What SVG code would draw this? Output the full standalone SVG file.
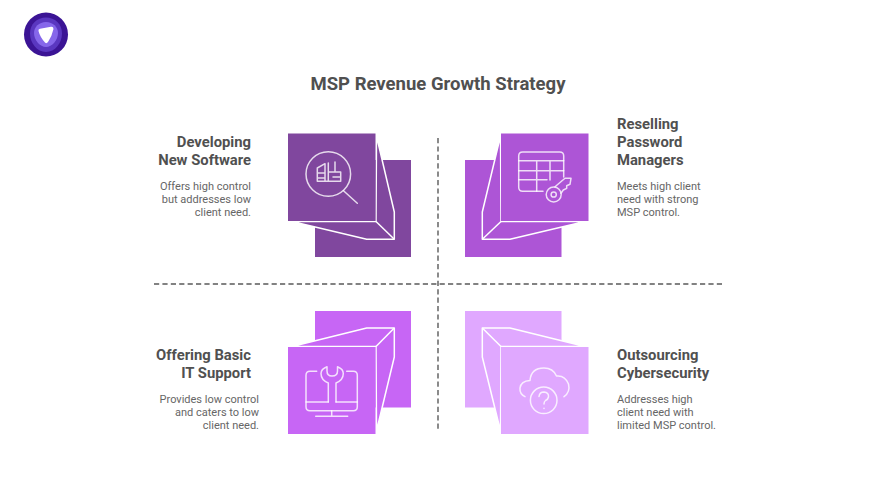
<svg xmlns="http://www.w3.org/2000/svg" width="876" height="493" viewBox="0 0 876 493">
<style>
text{font-family:Roboto,"Liberation Sans",sans-serif}
.t{font-size:18.5px;font-weight:700;fill:#505050}
.h{font-size:14.8px;font-weight:700;fill:#505050}
.d{font-size:11px;fill:#666}
.e{text-anchor:end}
.f{stroke:#fff;stroke-width:1.5;stroke-linejoin:round}
.b{stroke:none}
.i{fill:none;stroke:#fff;stroke-opacity:.8;stroke-width:1.5;stroke-linecap:round;stroke-linejoin:round}
.dash{fill:none;stroke:#5a5a5a;stroke-width:1.4;stroke-dasharray:5.2 3.2}
</style>
<rect width="876" height="493" fill="#fff"/>
<g id="logo">
<circle cx="46" cy="34.500" r="22" fill="#3b1495"/>
<path d="M46 17.500C55 17.500 62 24 62 33.500C62 43 55 52 46 52C37 52 30 43 30 33.500C30 24 37 17.500 46 17.500Z" fill="#5a37c0"/>
<path d="M46 22C53 22 58 27 58 33C58 40 52 47 46 47C40 47 34 40 34 33C34 27 39 22 46 22Z" fill="#8667ea"/>
<path d="M38.500 31Q38 29 40 28.800L51 26.800Q53.500 26.500 53.500 29Q52 36 48 42Q46.500 44 45 42.500Q40 37 38.500 31Z" fill="#fff"/>
</g>
<text class="t" x="438" y="90" text-anchor="middle">MSP Revenue Growth Strategy</text>
<g id="connectors">
<path class="dash" d="M154 284H724"/>
<path class="dash" d="M438 138V431"/>
</g>
<g id="node-developing">
<rect class="b" x="315" y="160" width="96" height="97" fill="#80479e"/>
<path class="f" d="M376 221.500L376.500 136L394.300 212V239.300H366.700L292 221.500Z" fill="#80479e"/>
<path class="f" fill="none" d="M376 221.500L394.300 239.300"/>
<rect class="b" x="288" y="133.500" width="87.500" height="87.500" fill="#80479e"/>
<g class="i">
<circle cx="328.300" cy="174" r="22.300"/>
<path d="M343.500 190.700L357.300 203.300"/>
<path d="M325 163.700L317.300 168V181.300H340.700V172H328.300M325 163.700V181.300M328.300 163V181.300M335 162V172M317.300 173H325M317.300 178H325M333 177H340.700"/>
</g>
<text class="h e" x="251" y="147">Developing</text>
<text class="h e" x="251" y="165">New Software</text>
<text class="d e" x="251" y="190">Offers high control</text>
<text class="d e" x="251" y="203">but addresses low</text>
<text class="d e" x="251" y="216">client need.</text>
</g>
<g id="node-reselling">
<rect class="b" x="465" y="160" width="96.500" height="97" fill="#ad55d6"/>
<path class="f" d="M501 221.500L500.500 136L482.300 212V239.300H510L585 221.500Z" fill="#ad55d6"/>
<path class="f" fill="none" d="M501 221.500L482.300 239.300"/>
<rect class="b" x="501" y="133.500" width="87.500" height="87.500" fill="#ad55d6"/>
<g class="i">
<path d="M563.700 177V156Q563.700 152 559.700 152H522.700Q518.700 152 518.700 156V187.300Q518.700 191.300 522.700 191.300H543"/>
<path d="M518.700 160.700H563.700M518.700 170.700H563.700M518.700 179.700H547M536.700 160.700V191.300M550 160.700V180"/>
<circle cx="553.700" cy="194.500" r="7.500"/>
<circle cx="553.700" cy="194.500" r="2.600"/>
<path d="M555 186.700L565 178.300H571L570 184.300L566.700 185.700V188.300L563.300 190L561 193.300"/>
</g>
<text class="h" x="617" y="129">Reselling</text>
<text class="h" x="617" y="147">Password</text>
<text class="h" x="617" y="165">Managers</text>
<text class="d" x="617" y="190">Meets high client</text>
<text class="d" x="617" y="203">need with strong</text>
<text class="d" x="617" y="216">MSP control.</text>
</g>
<g id="node-offering">
<rect class="b" x="315" y="311" width="96" height="96.500" fill="#c766f5"/>
<path class="f" d="M376 346.500L376.500 431L394.300 357V328H366.700L292 346.500Z" fill="#c766f5"/>
<path class="f" fill="none" d="M376 346.500L394.300 328"/>
<rect class="b" x="288" y="347" width="87.500" height="87" fill="#c766f5"/>
<g class="i">
<path d="M316.700 371.300H310Q306 371.300 306 375.300V406.700Q306 410.700 310 410.700H353.300Q357.300 410.700 357.300 406.700V375.300Q357.300 371.300 353.300 371.300H346.700"/>
<path d="M306 402H328.300M336 402H357.300M331.700 410.700V416.300M315.700 416.300H347.700"/>
<path d="M328.300 402V383Q321 380 321 373.500Q321 369 327 366.700V371Q327 376 332 376Q337.500 376 337.500 371V366.700Q343.300 369 343.300 373.500Q343.300 380 336 383V402"/>
</g>
<text class="h e" x="251" y="360">Offering Basic</text>
<text class="h e" x="251" y="378">IT Support</text>
<text class="d e" x="259" y="403">Provides low control</text>
<text class="d e" x="259" y="416">and caters to low</text>
<text class="d e" x="259" y="429">client need.</text>
</g>
<g id="node-outsourcing">
<rect class="b" x="465" y="311" width="96.500" height="96.500" fill="#e0a8ff"/>
<path class="f" d="M501 346.500L500.500 431L482.300 357V328H510L585 346.500Z" fill="#e0a8ff"/>
<path class="f" fill="none" d="M501 346.500L482.300 328"/>
<rect class="b" x="501" y="347" width="87.500" height="87" fill="#e0a8ff"/>
<g class="i">
<path d="M525 396.700Q519.500 394 520 388Q521 381 530 380.500Q531 368 544 368Q553 368 556.500 376Q565 375 568.500 384Q570.500 392 564 396.700"/>
<circle cx="543.700" cy="400.300" r="13.300"/>
<path d="M539 396.500Q539.500 392 544 392Q549 392.500 548.500 397Q548 399.500 545.500 400.500Q544 401.500 544 404"/>
<path d="M544 408.300V408.500"/>
</g>
<text class="h" x="617" y="360">Outsourcing</text>
<text class="h" x="617" y="378">Cybersecurity</text>
<text class="d" x="617" y="403">Addresses high</text>
<text class="d" x="617" y="416">client need with</text>
<text class="d" x="617" y="429">limited MSP control.</text>
</g>
</svg>
